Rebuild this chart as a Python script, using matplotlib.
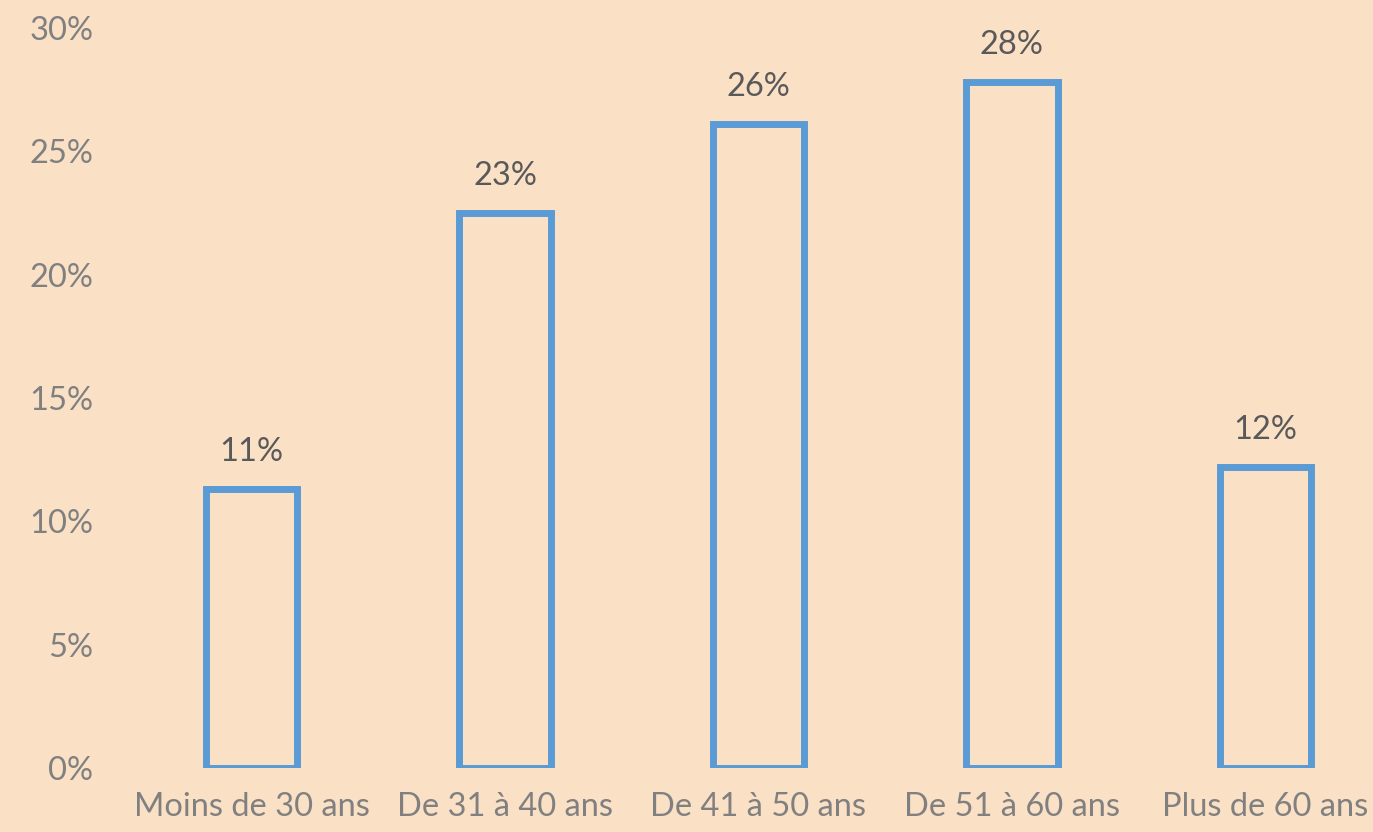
import matplotlib.pyplot as plt
import matplotlib.ticker as ticker

# Age groups and their shares (%)
categories = ["Moins de 30 ans", "De 31 à 40 ans", "De 41 à 50 ans", "De 51 à 60 ans", "Plus de 60 ans"]
values = [11.3, 22.5, 26.1, 27.8, 12.2]
labels = ["11%", "23%", "26%", "28%", "12%"]

bg = "#FAE0C5"
blue = "#5B9BD5"

plt.rcParams['font.family'] = ['Lato', 'DejaVu Sans']

fig = plt.figure(figsize=(13.73, 8.32), dpi=100, facecolor=bg)
ax = fig.add_axes([125 / 1373, 1 - 768 / 832, 1267 / 1373, 740 / 832])
ax.set_facecolor(bg)

x = range(len(categories))
ax.bar(x, values, width=0.36, facecolor="none", edgecolor=blue, linewidth=5)

for xi, v, lab in zip(x, values, labels):
    ax.text(xi, v + 0.9, lab, ha='center', va='bottom', fontsize=23.5, color="#595959")

ax.set_xlim(-0.5, 4.5)
ax.set_ylim(0, 30)
ax.set_yticks(range(0, 31, 5))
ax.yaxis.set_major_formatter(ticker.FuncFormatter(lambda v, p: f"{int(v)}%"))
ax.set_xticks(list(x))
ax.set_xticklabels(categories)

for s in ax.spines.values():
    s.set_visible(False)
ax.tick_params(axis='both', length=0, labelsize=23.5, colors="#808080")
ax.tick_params(axis='y', pad=23)
ax.tick_params(axis='x', pad=17)

plt.savefig("out.png", facecolor=bg)
